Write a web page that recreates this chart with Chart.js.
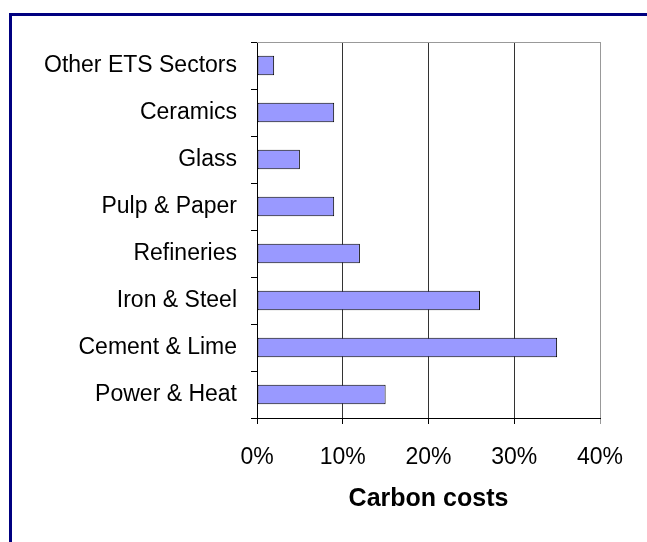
<!DOCTYPE html>
<html>
<head>
<meta charset="utf-8">
<script src="https://cdn.jsdelivr.net/npm/chart.js@4"></script>
<style>
    html, body { margin: 0; padding: 0; background: #fff; overflow: hidden; }
    #wrap { position: relative; width: 647px; height: 542px; }
    #frame {
        position: absolute; left: 9px; top: 13px;
        width: 700px; height: 600px;
        border: 3px solid #000080;
        box-sizing: border-box;
    }
    #costChart { position: absolute; left: 0; top: 0; }
</style>
</head>
<body>
<div id="wrap">
    <div id="frame"></div>
    <canvas id="costChart" width="647" height="542"></canvas>
</div>
<script>
// Sectors, top to bottom as drawn
const sectors = ['Other ETS Sectors', 'Ceramics', 'Glass', 'Pulp & Paper',
    'Refineries', 'Iron & Steel', 'Cement & Lime', 'Power & Heat'];
// Carbon costs in percent
const carbonCosts = [2, 9, 5, 9, 12, 26, 35, 15];
const xTicks = [0, 10, 20, 30, 40];

// Gray top and right edges of the plot area
const plotFrame = {
    id: 'plotFrame',
    afterDraw(chart) {
        const { ctx, chartArea } = chart;
        ctx.save();
        ctx.strokeStyle = '#999';
        ctx.lineWidth = 1;
        ctx.beginPath();
        ctx.moveTo(chartArea.left, chartArea.top + 0.5);
        ctx.lineTo(chartArea.right + 0.5, chartArea.top + 0.5);
        ctx.lineTo(chartArea.right + 0.5, chartArea.bottom);
        ctx.stroke();
        ctx.restore();
    }
};

const ctx = document.getElementById('costChart').getContext('2d');
const costChart = new Chart(ctx, {
    type: 'bar',
    data: {
        labels: sectors,
        datasets: [{
            data: carbonCosts,
            backgroundColor: '#9999FF',
            borderColor: '#000',
            borderWidth: 1,
            borderSkipped: false,
            categoryPercentage: 1,
            barPercentage: 0.42
        }]
    },
    options: {
        indexAxis: 'y',
        responsive: false,
        animation: false,
        layout: { padding: { top: 42, right: 47, left: 0, bottom: 0 } },
        plugins: {
            legend: { display: false },
            tooltip: { enabled: false }
        },
        scales: {
            x: {
                min: xTicks[0],
                max: xTicks[xTicks.length - 1],
                afterFit: (scale) => { scale.height = 124; },
                afterBuildTicks: (scale) => {
                    scale.ticks = xTicks.map(v => ({ value: v }));
                },
                ticks: {
                    color: '#000',
                    font: { family: 'Liberation Sans, Arial, sans-serif', size: 23 },
                    padding: 20,
                    maxRotation: 0,
                    autoSkip: false,
                    callback: (v) => v + '%'
                },
                grid: {
                    color: (c) => c.index === xTicks.length - 1 ? '#999' : '#333',
                    tickColor: (c) => c.index === xTicks.length - 1 ? '#999' : '#000',
                    tickLength: 6,
                    lineWidth: 1
                },
                border: { color: '#000', width: 1 },
                title: {
                    display: true,
                    text: 'Carbon costs',
                    color: '#000',
                    font: { family: 'Liberation Sans, Arial, sans-serif', size: 25, weight: 'bold' },
                    padding: { top: 0, bottom: 28 }
                }
            },
            y: {
                afterFit: (scale) => { scale.width = 257; },
                ticks: {
                    color: '#000',
                    font: { family: 'Liberation Sans, Arial, sans-serif', size: 23 },
                    padding: 14,
                    autoSkip: false
                },
                grid: {
                    offset: true,
                    drawOnChartArea: false,
                    tickLength: 6,
                    tickColor: '#000'
                },
                border: { color: '#000', width: 1 }
            }
        }
    },
    plugins: [plotFrame]
});
</script>
</body>
</html>
